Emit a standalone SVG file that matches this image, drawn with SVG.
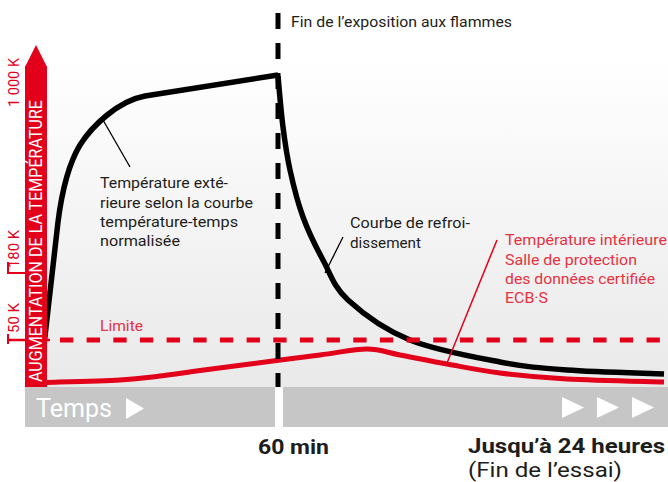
<svg xmlns="http://www.w3.org/2000/svg" width="668" height="482" viewBox="0 0 668 482">
<defs>
<linearGradient id="bg" x1="0" y1="0" x2="0" y2="1">
<stop offset="0" stop-color="#ffffff"/>
<stop offset="0.15" stop-color="#ffffff"/>
<stop offset="1" stop-color="#e9e9e9"/>
</linearGradient>
<style>
.t{font-family:Roboto,"Liberation Sans",sans-serif;font-size:15px;fill:#1d1d1b}
.r{font-family:Roboto,"Liberation Sans",sans-serif;font-size:15px;fill:#e63241}
.tick{font-family:Roboto,"Liberation Sans",sans-serif;font-size:15px;fill:#e2001a}
.b{font-family:Roboto,"Liberation Sans",sans-serif;font-weight:bold;fill:#1d1d1b}
.curve{fill:none;stroke-linecap:butt;stroke-linejoin:round}
</style>
</defs>
<rect x="0" y="0" width="668" height="482" fill="#ffffff"/>
<rect x="47" y="0" width="621" height="387" fill="url(#bg)"/>
<g id="timebar">
<rect x="25" y="387" width="250" height="40" fill="#c6c6c6"/>
<rect x="283" y="387" width="385" height="40" fill="#c6c6c6"/>
<text x="36" y="417" style="font-family:Roboto,'Liberation Sans',sans-serif;font-size:25px;fill:#ffffff" textLength="76" lengthAdjust="spacingAndGlyphs">Temps</text>
<polygon points="126,398 144,408.5 126,419" fill="#ffffff"/>
<polygon points="562,397 584,407.5 562,418" fill="#ffffff"/>
<polygon points="597,397 619,407.5 597,418" fill="#ffffff"/>
<polygon points="632,397 654,407.5 632,418" fill="#ffffff"/>
</g>
<g id="connectors">
<path id="outer-curve" class="curve" stroke="#000" stroke-width="5.5" d="M44,345 L58,222 C62,190 68,165 80,145 C92,126 118,101 145,96 L278,75"/>
<path id="cooling-curve" class="curve" stroke="#000" stroke-width="5.5" d="M278,76 C278.8,84.5 281,111.3 283,127 C285,142.7 286.7,155 290,170 C293.3,185 297.5,202 303,217 C308.5,232 315.5,246.2 323,260 C330.5,273.8 333.5,286.7 348,300 C362.5,313.3 384.7,329.7 410,340 C435.3,350.3 473.8,357 500,362 C526.2,367 539.7,368 567,370 C594.3,372 647.8,373.3 664,374"/>
<path id="inner-curve" class="curve" stroke="#e2001a" stroke-width="5" d="M46,382.5 C58.3,382.1 101,381.1 120,380 C139,378.9 146.7,377.6 160,376 C173.3,374.4 185,372.5 200,370.5 C215,368.5 230,366.6 250,364 C270,361.4 300.5,357.5 320,355 C339.5,352.5 353.7,349 367,349 C380.3,349 386.7,352.5 400,355 C413.3,357.5 430.3,361 447,364 C463.7,367 480,370.5 500,373 C520,375.5 539.7,377.5 567,379 C594.3,380.5 647.8,381.5 664,382"/>
<line id="limit-line" x1="60" y1="340" x2="663" y2="340" stroke="#e2001a" stroke-width="5" stroke-dasharray="13.33 13.33"/>
<line id="leader-ext" x1="103" y1="120" x2="130" y2="167" stroke="#000" stroke-width="1.3"/>
<line id="leader-cool" x1="325" y1="273" x2="343" y2="237" stroke="#000" stroke-width="1.3"/>
<line id="leader-int" x1="447" y1="363" x2="497" y2="240" stroke="#e2001a" stroke-width="1.5"/>
<line id="flame-end" x1="278" y1="13" x2="278" y2="387" stroke="#000" stroke-width="5" stroke-dasharray="16 14"/>
</g>
<g id="axis">
<line x1="8" y1="273" x2="30" y2="273" stroke="#e2001a" stroke-width="2"/>
<line x1="8" y1="262" x2="8" y2="274" stroke="#e2001a" stroke-width="2"/>
<line x1="8" y1="340" x2="50" y2="340" stroke="#e2001a" stroke-width="2.5"/>
<line x1="8" y1="334" x2="8" y2="344" stroke="#e2001a" stroke-width="2"/>
<rect x="25" y="66" width="22" height="321" fill="#e2001a"/>
<polygon points="25,67 36,45 47,67" fill="#e2001a"/>
<text transform="translate(41.5,382) rotate(-90)" style="font-family:Roboto,'Liberation Sans',sans-serif;font-size:18px;fill:#ffffff" textLength="282" lengthAdjust="spacingAndGlyphs">AUGMENTATION DE LA TEMPÉRATURE</text>
<text class="tick" transform="translate(19,107) rotate(-90)" textLength="49" lengthAdjust="spacingAndGlyphs">1 000 K</text>
<text class="tick" transform="translate(19,268) rotate(-90)" textLength="38" lengthAdjust="spacingAndGlyphs">180 K</text>
<text class="tick" transform="translate(19,333) rotate(-90)" textLength="30" lengthAdjust="spacingAndGlyphs">50 K</text>
</g>
<g id="label-flame">
<text class="t" x="291" y="27" textLength="221" lengthAdjust="spacingAndGlyphs">Fin de l’exposition aux flammes</text>
</g>
<g id="label-ext">
<text class="t" x="100" y="188" textLength="128" lengthAdjust="spacingAndGlyphs">Température exté-</text>
<text class="t" x="100" y="207.5" textLength="153" lengthAdjust="spacingAndGlyphs">rieure selon la courbe</text>
<text class="t" x="100" y="227" textLength="138" lengthAdjust="spacingAndGlyphs">température-temps</text>
<text class="t" x="100" y="246" textLength="80" lengthAdjust="spacingAndGlyphs">normalisée</text>
</g>
<g id="label-cool">
<text class="t" x="350" y="228" textLength="120" lengthAdjust="spacingAndGlyphs">Courbe de refroi-</text>
<text class="t" x="350" y="248" textLength="71" lengthAdjust="spacingAndGlyphs">dissement</text>
</g>
<g id="label-int">
<text class="r" x="505" y="245" textLength="162" lengthAdjust="spacingAndGlyphs">Température intérieure</text>
<text class="r" x="505" y="264.5" textLength="132" lengthAdjust="spacingAndGlyphs">Salle de protection</text>
<text class="r" x="505" y="283.5" textLength="150" lengthAdjust="spacingAndGlyphs">des données certifiée</text>
<text class="r" x="505" y="302.5" textLength="43" lengthAdjust="spacingAndGlyphs">ECB·S</text>
</g>
<g id="label-limit">
<text class="r" x="100" y="331" textLength="43" lengthAdjust="spacingAndGlyphs">Limite</text>
</g>
<g id="label-time">
<text class="b" x="258" y="454" style="font-size:20px" textLength="71" lengthAdjust="spacingAndGlyphs">60 min</text>
<text class="b" x="468" y="453" style="font-size:21px" textLength="197" lengthAdjust="spacingAndGlyphs">Jusqu’à 24 heures</text>
<text class="t" x="468" y="477" style="font-size:20px" textLength="154" lengthAdjust="spacingAndGlyphs">(Fin de l’essai)</text>
</g>
</svg>
